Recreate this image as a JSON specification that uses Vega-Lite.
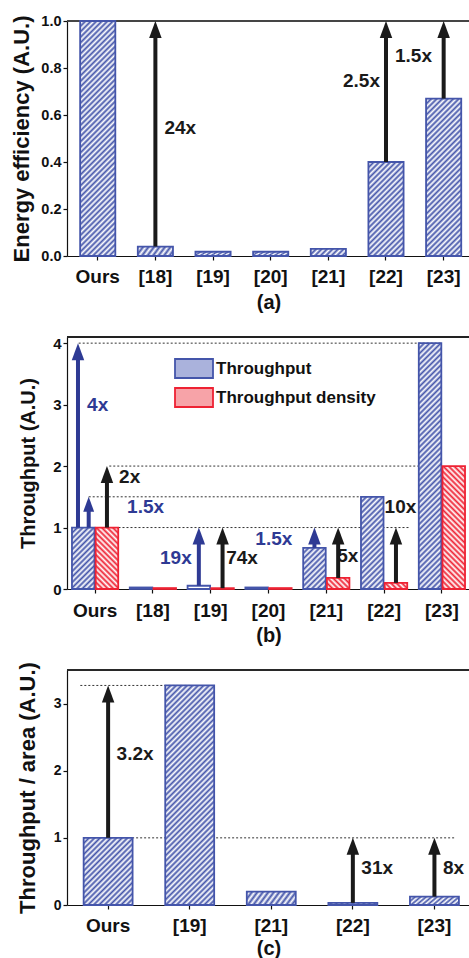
{
"$schema":"https://vega.github.io/schema/vega-lite/v6.json",
"padding":{"left":10,"top":13,"right":0,"bottom":0},
"bounds":"flush",
"spacing":81,
"resolve":{"legend":{"stroke":"independent","fill":"independent"}},
"config":{"font":"Liberation Sans","view":{"stroke":null},"text":{"fontSize":19,"fontWeight":"bold"},
"axis":{"labelFont":"Liberation Sans","titleFont":"Liberation Sans","labelFontWeight":"bold","titleFontWeight":"bold","labelColor":"#111","titleColor":"#111","domainColor":"#111","tickColor":"#111","grid":false,"domainWidth":1.2,"tickWidth":1.2},
"legend":{"labelFont":"Liberation Sans"}},
"vconcat":[
{"width":403,"height":235,
"data":{"values":[{"cat":"Ours","v":1},{"cat":"[18]","v":0.04},{"cat":"[19]","v":0.018},{"cat":"[20]","v":0.018},{"cat":"[21]","v":0.03},{"cat":"[22]","v":0.4},{"cat":"[23]","v":0.67}]},
"layer":[
{"mark":{"type":"rule","color":"#444","strokeWidth":1},"encoding":{"y":{"datum":1}}},
{"mark":{"type":"bar","stroke":"#45a","strokeWidth":1.8},
"encoding":{
"x":{"field":"cat","type":"nominal","sort":null,"scale":{"domain":["Ours","[18]","[19]","[20]","[21]","[22]","[23]"],"paddingInner":0.39,"paddingOuter":0.19,"align":0.6},
"axis":{"title":"(a)","titleFontSize":20,"titlePadding":6,"labelFontSize":19,"labelAngle":0,"labelPadding":7,"tickSize":4,"labelOverlap":false,"bandPosition":0.5,"labelAlign":"center","labelBaseline":"top"}},
"y":{"field":"v","type":"quantitative","scale":{"domain":[0,1],"nice":false},
"axis":{"title":"Energy efficiency (A.U.)","titleFontSize":22,"titleX":-33.3,"values":[0,0.1,0.2,0.3,0.4,0.5,0.6,0.7,0.8,0.9,1],"format":".1f","labelExpr":"round(datum.value*10)%2==0 ? datum.label : ''","tickSize":{"condition":{"test":"round(datum.value*10)%2==0","value":4},"value":2},"labelFontSize":14.5,"labelPadding":2}},
"fill":{"condition":[
{"test":"datum.cat=='Ours'","value":{"gradient":"linear","x1":0,"y1":0,"x2":0.1713,"y2":1.1446,"stops":[{"offset":0,"color":"#45a"},{"offset":0.01,"color":"#fff"},{"offset":0.02,"color":"#45a"},{"offset":0.03,"color":"#fff"},{"offset":0.04,"color":"#45a"},{"offset":0.05,"color":"#fff"},{"offset":0.06,"color":"#45a"},{"offset":0.07,"color":"#fff"},{"offset":0.08,"color":"#45a"},{"offset":0.09,"color":"#fff"},{"offset":0.1,"color":"#45a"},{"offset":0.11,"color":"#fff"},{"offset":0.12,"color":"#45a"},{"offset":0.13,"color":"#fff"},{"offset":0.14,"color":"#45a"},{"offset":0.15,"color":"#fff"},{"offset":0.16,"color":"#45a"},{"offset":0.17,"color":"#fff"},{"offset":0.18,"color":"#45a"},{"offset":0.19,"color":"#fff"},{"offset":0.2,"color":"#45a"},{"offset":0.21,"color":"#fff"},{"offset":0.22,"color":"#45a"},{"offset":0.23,"color":"#fff"},{"offset":0.24,"color":"#45a"},{"offset":0.25,"color":"#fff"},{"offset":0.26,"color":"#45a"},{"offset":0.27,"color":"#fff"},{"offset":0.28,"color":"#45a"},{"offset":0.29,"color":"#fff"},{"offset":0.3,"color":"#45a"},{"offset":0.31,"color":"#fff"},{"offset":0.32,"color":"#45a"},{"offset":0.33,"color":"#fff"},{"offset":0.34,"color":"#45a"},{"offset":0.35,"color":"#fff"},{"offset":0.36,"color":"#45a"},{"offset":0.37,"color":"#fff"},{"offset":0.38,"color":"#45a"},{"offset":0.39,"color":"#fff"},{"offset":0.4,"color":"#45a"},{"offset":0.41,"color":"#fff"},{"offset":0.42,"color":"#45a"},{"offset":0.43,"color":"#fff"},{"offset":0.44,"color":"#45a"},{"offset":0.45,"color":"#fff"},{"offset":0.46,"color":"#45a"},{"offset":0.47,"color":"#fff"},{"offset":0.48,"color":"#45a"},{"offset":0.49,"color":"#fff"},{"offset":0.5,"color":"#45a"},{"offset":0.51,"color":"#fff"},{"offset":0.52,"color":"#45a"},{"offset":0.53,"color":"#fff"},{"offset":0.54,"color":"#45a"},{"offset":0.55,"color":"#fff"},{"offset":0.56,"color":"#45a"},{"offset":0.57,"color":"#fff"},{"offset":0.58,"color":"#45a"},{"offset":0.59,"color":"#fff"},{"offset":0.6,"color":"#45a"},{"offset":0.61,"color":"#fff"},{"offset":0.62,"color":"#45a"},{"offset":0.63,"color":"#fff"},{"offset":0.64,"color":"#45a"},{"offset":0.65,"color":"#fff"},{"offset":0.66,"color":"#45a"},{"offset":0.67,"color":"#fff"},{"offset":0.68,"color":"#45a"},{"offset":0.69,"color":"#fff"},{"offset":0.7,"color":"#45a"},{"offset":0.71,"color":"#fff"},{"offset":0.72,"color":"#45a"},{"offset":0.73,"color":"#fff"},{"offset":0.74,"color":"#45a"},{"offset":0.75,"color":"#fff"},{"offset":0.76,"color":"#45a"},{"offset":0.77,"color":"#fff"},{"offset":0.78,"color":"#45a"},{"offset":0.79,"color":"#fff"},{"offset":0.8,"color":"#45a"},{"offset":0.81,"color":"#fff"},{"offset":0.82,"color":"#45a"},{"offset":0.83,"color":"#fff"},{"offset":0.84,"color":"#45a"},{"offset":0.85,"color":"#fff"},{"offset":0.86,"color":"#45a"},{"offset":0.87,"color":"#fff"},{"offset":0.88,"color":"#45a"},{"offset":0.89,"color":"#fff"},{"offset":0.9,"color":"#45a"},{"offset":0.91,"color":"#fff"},{"offset":0.92,"color":"#45a"},{"offset":0.93,"color":"#fff"},{"offset":0.94,"color":"#45a"},{"offset":0.95,"color":"#fff"},{"offset":0.96,"color":"#45a"},{"offset":0.97,"color":"#fff"},{"offset":0.98,"color":"#45a"},{"offset":0.99,"color":"#fff"},{"offset":1,"color":"#45a"}]}},
{"test":"datum.cat=='[22]'","value":{"gradient":"linear","x1":0,"y1":0,"x2":0.9602,"y2":2.5663,"stops":[{"offset":0,"color":"#45a"},{"offset":0.01,"color":"#fff"},{"offset":0.02,"color":"#45a"},{"offset":0.03,"color":"#fff"},{"offset":0.04,"color":"#45a"},{"offset":0.05,"color":"#fff"},{"offset":0.06,"color":"#45a"},{"offset":0.07,"color":"#fff"},{"offset":0.08,"color":"#45a"},{"offset":0.09,"color":"#fff"},{"offset":0.1,"color":"#45a"},{"offset":0.11,"color":"#fff"},{"offset":0.12,"color":"#45a"},{"offset":0.13,"color":"#fff"},{"offset":0.14,"color":"#45a"},{"offset":0.15,"color":"#fff"},{"offset":0.16,"color":"#45a"},{"offset":0.17,"color":"#fff"},{"offset":0.18,"color":"#45a"},{"offset":0.19,"color":"#fff"},{"offset":0.2,"color":"#45a"},{"offset":0.21,"color":"#fff"},{"offset":0.22,"color":"#45a"},{"offset":0.23,"color":"#fff"},{"offset":0.24,"color":"#45a"},{"offset":0.25,"color":"#fff"},{"offset":0.26,"color":"#45a"},{"offset":0.27,"color":"#fff"},{"offset":0.28,"color":"#45a"},{"offset":0.29,"color":"#fff"},{"offset":0.3,"color":"#45a"},{"offset":0.31,"color":"#fff"},{"offset":0.32,"color":"#45a"},{"offset":0.33,"color":"#fff"},{"offset":0.34,"color":"#45a"},{"offset":0.35,"color":"#fff"},{"offset":0.36,"color":"#45a"},{"offset":0.37,"color":"#fff"},{"offset":0.38,"color":"#45a"},{"offset":0.39,"color":"#fff"},{"offset":0.4,"color":"#45a"},{"offset":0.41,"color":"#fff"},{"offset":0.42,"color":"#45a"},{"offset":0.43,"color":"#fff"},{"offset":0.44,"color":"#45a"},{"offset":0.45,"color":"#fff"},{"offset":0.46,"color":"#45a"},{"offset":0.47,"color":"#fff"},{"offset":0.48,"color":"#45a"}]}},
{"test":"datum.cat=='[23]'","value":{"gradient":"linear","x1":0,"y1":0,"x2":0.3716,"y2":1.6636,"stops":[{"offset":0,"color":"#45a"},{"offset":0.01,"color":"#fff"},{"offset":0.02,"color":"#45a"},{"offset":0.03,"color":"#fff"},{"offset":0.04,"color":"#45a"},{"offset":0.05,"color":"#fff"},{"offset":0.06,"color":"#45a"},{"offset":0.07,"color":"#fff"},{"offset":0.08,"color":"#45a"},{"offset":0.09,"color":"#fff"},{"offset":0.1,"color":"#45a"},{"offset":0.11,"color":"#fff"},{"offset":0.12,"color":"#45a"},{"offset":0.13,"color":"#fff"},{"offset":0.14,"color":"#45a"},{"offset":0.15,"color":"#fff"},{"offset":0.16,"color":"#45a"},{"offset":0.17,"color":"#fff"},{"offset":0.18,"color":"#45a"},{"offset":0.19,"color":"#fff"},{"offset":0.2,"color":"#45a"},{"offset":0.21,"color":"#fff"},{"offset":0.22,"color":"#45a"},{"offset":0.23,"color":"#fff"},{"offset":0.24,"color":"#45a"},{"offset":0.25,"color":"#fff"},{"offset":0.26,"color":"#45a"},{"offset":0.27,"color":"#fff"},{"offset":0.28,"color":"#45a"},{"offset":0.29,"color":"#fff"},{"offset":0.3,"color":"#45a"},{"offset":0.31,"color":"#fff"},{"offset":0.32,"color":"#45a"},{"offset":0.33,"color":"#fff"},{"offset":0.34,"color":"#45a"},{"offset":0.35,"color":"#fff"},{"offset":0.36,"color":"#45a"},{"offset":0.37,"color":"#fff"},{"offset":0.38,"color":"#45a"},{"offset":0.39,"color":"#fff"},{"offset":0.4,"color":"#45a"},{"offset":0.41,"color":"#fff"},{"offset":0.42,"color":"#45a"},{"offset":0.43,"color":"#fff"},{"offset":0.44,"color":"#45a"},{"offset":0.45,"color":"#fff"},{"offset":0.46,"color":"#45a"},{"offset":0.47,"color":"#fff"},{"offset":0.48,"color":"#45a"},{"offset":0.49,"color":"#fff"},{"offset":0.5,"color":"#45a"},{"offset":0.51,"color":"#fff"},{"offset":0.52,"color":"#45a"},{"offset":0.53,"color":"#fff"},{"offset":0.54,"color":"#45a"},{"offset":0.55,"color":"#fff"},{"offset":0.56,"color":"#45a"},{"offset":0.57,"color":"#fff"},{"offset":0.58,"color":"#45a"},{"offset":0.59,"color":"#fff"},{"offset":0.6,"color":"#45a"},{"offset":0.61,"color":"#fff"},{"offset":0.62,"color":"#45a"},{"offset":0.63,"color":"#fff"},{"offset":0.64,"color":"#45a"},{"offset":0.65,"color":"#fff"},{"offset":0.66,"color":"#45a"},{"offset":0.67,"color":"#fff"},{"offset":0.68,"color":"#45a"},{"offset":0.69,"color":"#fff"},{"offset":0.7,"color":"#45a"},{"offset":0.71,"color":"#fff"},{"offset":0.72,"color":"#45a"}]}}
],"value":{"gradient":"linear","x1":0,"y1":0,"x2":7.509,"y2":1.4946,"stops":[{"offset":0,"color":"#45a"},{"offset":0.01,"color":"#fff"},{"offset":0.02,"color":"#45a"},{"offset":0.03,"color":"#fff"},{"offset":0.04,"color":"#45a"},{"offset":0.05,"color":"#fff"},{"offset":0.06,"color":"#45a"},{"offset":0.07,"color":"#fff"},{"offset":0.08,"color":"#45a"},{"offset":0.09,"color":"#fff"},{"offset":0.1,"color":"#45a"},{"offset":0.11,"color":"#fff"},{"offset":0.12,"color":"#45a"},{"offset":0.13,"color":"#fff"},{"offset":0.14,"color":"#45a"},{"offset":0.15,"color":"#fff"},{"offset":0.16,"color":"#45a"}]}}
}},
{"data":{"values":[{"cat":"[18]","from":0.04,"to":1},{"cat":"[22]","from":0.4,"to":1},{"cat":"[23]","from":0.67,"to":1}]},
"encoding":{"x":{"field":"cat","type":"nominal"}},
"layer":[
{"mark":{"type":"rule","color":"#1a1a1a","strokeWidth":4,"y2Offset":10},"encoding":{"y":{"field":"from","type":"quantitative"},"y2":{"field":"to"}}},
{"mark":{"type":"point","shape":"M0,0L-0.735,2L0.735,2Z","size":289,"filled":true,"opacity":1,"color":"#1a1a1a","strokeWidth":0},"encoding":{"y":{"field":"to","type":"quantitative"}}}
]},
{"encoding":{"x":{"field":"cat","type":"nominal"},"y":{"field":"y","type":"quantitative"},"text":{"field":"t"}},
"layer":[
{"data":{"values":[{"cat":"[18]","y":0.546,"t":"24x"}]},"mark":{"type":"text","align":"left","dx":9,"color":"#1a1a1a"}},
{"data":{"values":[{"cat":"[22]","y":0.745,"t":"2.5x"}]},"mark":{"type":"text","align":"right","dx":-6,"color":"#1a1a1a"}},
{"data":{"values":[{"cat":"[23]","y":0.851,"t":"1.5x"}]},"mark":{"type":"text","align":"right","dx":-11.7,"color":"#1a1a1a"}}
]}
]},
{"width":403,"height":252,
"data":{"values":[{"cat":"Ours","series":"Throughput","v":1},{"cat":"Ours","series":"Throughput density","v":1},{"cat":"[18]","series":"Throughput","v":0.025},{"cat":"[18]","series":"Throughput density","v":0.015},{"cat":"[19]","series":"Throughput","v":0.053},{"cat":"[19]","series":"Throughput density","v":0.0135},{"cat":"[20]","series":"Throughput","v":0.025},{"cat":"[20]","series":"Throughput density","v":0.015},{"cat":"[21]","series":"Throughput","v":0.67},{"cat":"[21]","series":"Throughput density","v":0.18},{"cat":"[22]","series":"Throughput","v":1.5},{"cat":"[22]","series":"Throughput density","v":0.1},{"cat":"[23]","series":"Throughput","v":4},{"cat":"[23]","series":"Throughput density","v":2}]},
"layer":[
{"mark":{"type":"rule","color":"#222","strokeWidth":1},"encoding":{"y":{"datum":4.1}}},
{"encoding":{"x":{"field":"from","type":"nominal"},"x2":{"field":"to"},"y":{"field":"y","type":"quantitative"}},
"layer":[
{"data":{"values":[{"y":4,"from":"Ours","to":"[23]"}]},"mark":{"type":"rule","strokeDash":[2,2],"strokeWidth":1,"color":"#333","xOffset":-16.4}},
{"data":{"values":[{"y":2,"from":"Ours","to":"[23]"}]},"mark":{"type":"rule","strokeDash":[2,2],"strokeWidth":1,"color":"#333","xOffset":14.2}},
{"data":{"values":[{"y":1.5,"from":"Ours","to":"[22]"}]},"mark":{"type":"rule","strokeDash":[2,2],"strokeWidth":1,"color":"#333","xOffset":-6.4}},
{"data":{"values":[{"y":1,"from":"Ours","to":"[22]"}]},"mark":{"type":"rule","strokeDash":[2,2],"strokeWidth":1,"color":"#333","xOffset":23.4,"x2Offset":26}}
]},
{"transform":[{"filter":"datum.v < 0"}],
"mark":{"type":"bar"},
"encoding":{"x":{"field":"cat","type":"nominal"},"y":{"field":"v","type":"quantitative"},
"fill":{"field":"series","type":"nominal","scale":{"domain":["Throughput","Throughput density"],"range":["#aab2dc","#f7a3a8"]},
"legend":{"orient":"none","legendX":108,"legendY":21,"title":null,"padding":0,"labelFontSize":17,"labelFontWeight":"bold","labelColor":"#111","symbolType":"M-2,-1H2V1H-2Z","symbolSize":361,"symbolStrokeWidth":1.8,"symbolOffset":8.5,"labelOffset":11.5,"rowPadding":2,"symbolOpacity":1}}}},
{"mark":{"type":"bar","strokeWidth":1.8},
"encoding":{
"x":{"field":"cat","type":"nominal","sort":null,"scale":{"domain":["Ours","[18]","[19]","[20]","[21]","[22]","[23]"],"paddingInner":0.2,"paddingOuter":0.086,"align":0.5},
"axis":{"title":"(b)","titleFontSize":20,"titlePadding":5.5,"labelFontSize":19,"labelAngle":0,"labelPadding":8.3,"tickSize":4,"labelOverlap":false,"bandPosition":0.5,"labelAlign":"center","labelBaseline":"top"}},
"xOffset":{"field":"series","type":"nominal","scale":{"domain":["Throughput","Throughput density"],"paddingInner":0.05,"paddingOuter":0}},
"y":{"field":"v","type":"quantitative","scale":{"domain":[0,4.1],"nice":false},
"axis":{"title":"Throughput (A.U.)","titleFontSize":20,"titleX":-28.3,"values":[0,0.5,1,1.5,2,2.5,3,3.5,4],"format":".0f","labelExpr":"datum.value%1==0 ? datum.label : ''","tickSize":{"condition":{"test":"datum.value%1==0","value":4},"value":2},"labelFontSize":15,"labelPadding":2}},
"stroke":{"field":"series","type":"nominal","scale":{"domain":["Throughput","Throughput density"],"range":["#45a","#e23"]},
"legend":{"orient":"none","legendX":108,"legendY":21,"title":null,"padding":0,"labelFontSize":17,"labelFontWeight":"bold","labelColor":"#111","symbolType":"M-2,-1H2V1H-2Z","symbolSize":361,"symbolStrokeWidth":1.8,"symbolOffset":8.5,"labelOffset":11.5,"rowPadding":2,"symbolOpacity":1}},
"fill":{"condition":[
{"test":"datum.cat=='Ours'&&datum.series=='Throughput'","value":{"gradient":"linear","x1":0,"y1":0,"x2":1.443,"y2":3.944,"stops":[{"offset":0,"color":"#45a"},{"offset":0.01,"color":"#fff"},{"offset":0.02,"color":"#45a"},{"offset":0.03,"color":"#fff"},{"offset":0.04,"color":"#45a"},{"offset":0.05,"color":"#fff"},{"offset":0.06,"color":"#45a"},{"offset":0.07,"color":"#fff"},{"offset":0.08,"color":"#45a"},{"offset":0.09,"color":"#fff"},{"offset":0.1,"color":"#45a"},{"offset":0.11,"color":"#fff"},{"offset":0.12,"color":"#45a"},{"offset":0.13,"color":"#fff"},{"offset":0.14,"color":"#45a"},{"offset":0.15,"color":"#fff"},{"offset":0.16,"color":"#45a"},{"offset":0.17,"color":"#fff"},{"offset":0.18,"color":"#45a"},{"offset":0.19,"color":"#fff"},{"offset":0.2,"color":"#45a"},{"offset":0.21,"color":"#fff"},{"offset":0.22,"color":"#45a"},{"offset":0.23,"color":"#fff"},{"offset":0.24,"color":"#45a"},{"offset":0.25,"color":"#fff"},{"offset":0.26,"color":"#45a"},{"offset":0.27,"color":"#fff"},{"offset":0.28,"color":"#45a"},{"offset":0.29,"color":"#fff"},{"offset":0.3,"color":"#45a"},{"offset":0.31,"color":"#fff"},{"offset":0.32,"color":"#45a"}]}},
{"test":"datum.cat=='Ours'","value":{"gradient":"linear","x1":1,"y1":0,"x2":-0.443,"y2":3.944,"stops":[{"offset":0,"color":"#e23"},{"offset":0.01,"color":"#fff"},{"offset":0.02,"color":"#e23"},{"offset":0.03,"color":"#fff"},{"offset":0.04,"color":"#e23"},{"offset":0.05,"color":"#fff"},{"offset":0.06,"color":"#e23"},{"offset":0.07,"color":"#fff"},{"offset":0.08,"color":"#e23"},{"offset":0.09,"color":"#fff"},{"offset":0.1,"color":"#e23"},{"offset":0.11,"color":"#fff"},{"offset":0.12,"color":"#e23"},{"offset":0.13,"color":"#fff"},{"offset":0.14,"color":"#e23"},{"offset":0.15,"color":"#fff"},{"offset":0.16,"color":"#e23"},{"offset":0.17,"color":"#fff"},{"offset":0.18,"color":"#e23"},{"offset":0.19,"color":"#fff"},{"offset":0.2,"color":"#e23"},{"offset":0.21,"color":"#fff"},{"offset":0.22,"color":"#e23"},{"offset":0.23,"color":"#fff"},{"offset":0.24,"color":"#e23"},{"offset":0.25,"color":"#fff"},{"offset":0.26,"color":"#e23"},{"offset":0.27,"color":"#fff"},{"offset":0.28,"color":"#e23"},{"offset":0.29,"color":"#fff"},{"offset":0.3,"color":"#e23"},{"offset":0.31,"color":"#fff"},{"offset":0.32,"color":"#e23"}]}},
{"test":"datum.cat=='[21]'&&datum.series=='Throughput'","value":{"gradient":"linear","x1":0,"y1":0,"x2":2.809,"y2":5.143,"stops":[{"offset":0,"color":"#45a"},{"offset":0.01,"color":"#fff"},{"offset":0.02,"color":"#45a"},{"offset":0.03,"color":"#fff"},{"offset":0.04,"color":"#45a"},{"offset":0.05,"color":"#fff"},{"offset":0.06,"color":"#45a"},{"offset":0.07,"color":"#fff"},{"offset":0.08,"color":"#45a"},{"offset":0.09,"color":"#fff"},{"offset":0.1,"color":"#45a"},{"offset":0.11,"color":"#fff"},{"offset":0.12,"color":"#45a"},{"offset":0.13,"color":"#fff"},{"offset":0.14,"color":"#45a"},{"offset":0.15,"color":"#fff"},{"offset":0.16,"color":"#45a"},{"offset":0.17,"color":"#fff"},{"offset":0.18,"color":"#45a"},{"offset":0.19,"color":"#fff"},{"offset":0.2,"color":"#45a"},{"offset":0.21,"color":"#fff"},{"offset":0.22,"color":"#45a"},{"offset":0.23,"color":"#fff"},{"offset":0.24,"color":"#45a"}]}},
{"test":"datum.cat=='[21]'","value":{"gradient":"linear","x1":1,"y1":0,"x2":-8.837,"y2":4.853,"stops":[{"offset":0,"color":"#e23"},{"offset":0.01,"color":"#fff"},{"offset":0.02,"color":"#e23"},{"offset":0.03,"color":"#fff"},{"offset":0.04,"color":"#e23"},{"offset":0.05,"color":"#fff"},{"offset":0.06,"color":"#e23"},{"offset":0.07,"color":"#fff"},{"offset":0.08,"color":"#e23"},{"offset":0.09,"color":"#fff"},{"offset":0.1,"color":"#e23"},{"offset":0.11,"color":"#fff"},{"offset":0.12,"color":"#e23"},{"offset":0.13,"color":"#fff"},{"offset":0.14,"color":"#e23"}]}},
{"test":"datum.cat=='[22]'&&datum.series=='Throughput'","value":{"gradient":"linear","x1":0,"y1":0,"x2":0.687,"y2":2.815,"stops":[{"offset":0,"color":"#45a"},{"offset":0.01,"color":"#fff"},{"offset":0.02,"color":"#45a"},{"offset":0.03,"color":"#fff"},{"offset":0.04,"color":"#45a"},{"offset":0.05,"color":"#fff"},{"offset":0.06,"color":"#45a"},{"offset":0.07,"color":"#fff"},{"offset":0.08,"color":"#45a"},{"offset":0.09,"color":"#fff"},{"offset":0.1,"color":"#45a"},{"offset":0.11,"color":"#fff"},{"offset":0.12,"color":"#45a"},{"offset":0.13,"color":"#fff"},{"offset":0.14,"color":"#45a"},{"offset":0.15,"color":"#fff"},{"offset":0.16,"color":"#45a"},{"offset":0.17,"color":"#fff"},{"offset":0.18,"color":"#45a"},{"offset":0.19,"color":"#fff"},{"offset":0.2,"color":"#45a"},{"offset":0.21,"color":"#fff"},{"offset":0.22,"color":"#45a"},{"offset":0.23,"color":"#fff"},{"offset":0.24,"color":"#45a"},{"offset":0.25,"color":"#fff"},{"offset":0.26,"color":"#45a"},{"offset":0.27,"color":"#fff"},{"offset":0.28,"color":"#45a"},{"offset":0.29,"color":"#fff"},{"offset":0.3,"color":"#45a"},{"offset":0.31,"color":"#fff"},{"offset":0.32,"color":"#45a"},{"offset":0.33,"color":"#fff"},{"offset":0.34,"color":"#45a"},{"offset":0.35,"color":"#fff"},{"offset":0.36,"color":"#45a"},{"offset":0.37,"color":"#fff"},{"offset":0.38,"color":"#45a"},{"offset":0.39,"color":"#fff"},{"offset":0.4,"color":"#45a"},{"offset":0.41,"color":"#fff"},{"offset":0.42,"color":"#45a"}]}},
{"test":"datum.cat=='[22]'","value":{"gradient":"linear","x1":1,"y1":0,"x2":-10.395,"y2":3.089,"stops":[{"offset":0,"color":"#e23"},{"offset":0.01,"color":"#fff"},{"offset":0.02,"color":"#e23"},{"offset":0.03,"color":"#fff"},{"offset":0.04,"color":"#e23"},{"offset":0.05,"color":"#fff"},{"offset":0.06,"color":"#e23"},{"offset":0.07,"color":"#fff"},{"offset":0.08,"color":"#e23"},{"offset":0.09,"color":"#fff"},{"offset":0.1,"color":"#e23"},{"offset":0.11,"color":"#fff"},{"offset":0.12,"color":"#e23"}]}},
{"test":"datum.cat=='[23]'&&datum.series=='Throughput'","value":{"gradient":"linear","x1":0,"y1":0,"x2":0.1015,"y2":1.109,"stops":[{"offset":0,"color":"#45a"},{"offset":0.01,"color":"#fff"},{"offset":0.02,"color":"#45a"},{"offset":0.03,"color":"#fff"},{"offset":0.04,"color":"#45a"},{"offset":0.05,"color":"#fff"},{"offset":0.06,"color":"#45a"},{"offset":0.07,"color":"#fff"},{"offset":0.08,"color":"#45a"},{"offset":0.09,"color":"#fff"},{"offset":0.1,"color":"#45a"},{"offset":0.11,"color":"#fff"},{"offset":0.12,"color":"#45a"},{"offset":0.13,"color":"#fff"},{"offset":0.14,"color":"#45a"},{"offset":0.15,"color":"#fff"},{"offset":0.16,"color":"#45a"},{"offset":0.17,"color":"#fff"},{"offset":0.18,"color":"#45a"},{"offset":0.19,"color":"#fff"},{"offset":0.2,"color":"#45a"},{"offset":0.21,"color":"#fff"},{"offset":0.22,"color":"#45a"},{"offset":0.23,"color":"#fff"},{"offset":0.24,"color":"#45a"},{"offset":0.25,"color":"#fff"},{"offset":0.26,"color":"#45a"},{"offset":0.27,"color":"#fff"},{"offset":0.28,"color":"#45a"},{"offset":0.29,"color":"#fff"},{"offset":0.3,"color":"#45a"},{"offset":0.31,"color":"#fff"},{"offset":0.32,"color":"#45a"},{"offset":0.33,"color":"#fff"},{"offset":0.34,"color":"#45a"},{"offset":0.35,"color":"#fff"},{"offset":0.36,"color":"#45a"},{"offset":0.37,"color":"#fff"},{"offset":0.38,"color":"#45a"},{"offset":0.39,"color":"#fff"},{"offset":0.4,"color":"#45a"},{"offset":0.41,"color":"#fff"},{"offset":0.42,"color":"#45a"},{"offset":0.43,"color":"#fff"},{"offset":0.44,"color":"#45a"},{"offset":0.45,"color":"#fff"},{"offset":0.46,"color":"#45a"},{"offset":0.47,"color":"#fff"},{"offset":0.48,"color":"#45a"},{"offset":0.49,"color":"#fff"},{"offset":0.5,"color":"#45a"},{"offset":0.51,"color":"#fff"},{"offset":0.52,"color":"#45a"},{"offset":0.53,"color":"#fff"},{"offset":0.54,"color":"#45a"},{"offset":0.55,"color":"#fff"},{"offset":0.56,"color":"#45a"},{"offset":0.57,"color":"#fff"},{"offset":0.58,"color":"#45a"},{"offset":0.59,"color":"#fff"},{"offset":0.6,"color":"#45a"},{"offset":0.61,"color":"#fff"},{"offset":0.62,"color":"#45a"},{"offset":0.63,"color":"#fff"},{"offset":0.64,"color":"#45a"},{"offset":0.65,"color":"#fff"},{"offset":0.66,"color":"#45a"},{"offset":0.67,"color":"#fff"},{"offset":0.68,"color":"#45a"},{"offset":0.69,"color":"#fff"},{"offset":0.7,"color":"#45a"},{"offset":0.71,"color":"#fff"},{"offset":0.72,"color":"#45a"},{"offset":0.73,"color":"#fff"},{"offset":0.74,"color":"#45a"},{"offset":0.75,"color":"#fff"},{"offset":0.76,"color":"#45a"},{"offset":0.77,"color":"#fff"},{"offset":0.78,"color":"#45a"},{"offset":0.79,"color":"#fff"},{"offset":0.8,"color":"#45a"},{"offset":0.81,"color":"#fff"},{"offset":0.82,"color":"#45a"},{"offset":0.83,"color":"#fff"},{"offset":0.84,"color":"#45a"},{"offset":0.85,"color":"#fff"},{"offset":0.86,"color":"#45a"},{"offset":0.87,"color":"#fff"},{"offset":0.88,"color":"#45a"},{"offset":0.89,"color":"#fff"},{"offset":0.9,"color":"#45a"},{"offset":0.91,"color":"#fff"},{"offset":0.92,"color":"#45a"},{"offset":0.93,"color":"#fff"},{"offset":0.94,"color":"#45a"},{"offset":0.95,"color":"#fff"},{"offset":0.96,"color":"#45a"},{"offset":0.97,"color":"#fff"},{"offset":0.98,"color":"#45a"},{"offset":0.99,"color":"#fff"},{"offset":1,"color":"#45a"}]}},
{"test":"datum.cat=='[23]'","value":{"gradient":"linear","x1":1,"y1":0,"x2":0.6036,"y2":2.165,"stops":[{"offset":0,"color":"#e23"},{"offset":0.01,"color":"#fff"},{"offset":0.02,"color":"#e23"},{"offset":0.03,"color":"#fff"},{"offset":0.04,"color":"#e23"},{"offset":0.05,"color":"#fff"},{"offset":0.06,"color":"#e23"},{"offset":0.07,"color":"#fff"},{"offset":0.08,"color":"#e23"},{"offset":0.09,"color":"#fff"},{"offset":0.1,"color":"#e23"},{"offset":0.11,"color":"#fff"},{"offset":0.12,"color":"#e23"},{"offset":0.13,"color":"#fff"},{"offset":0.14,"color":"#e23"},{"offset":0.15,"color":"#fff"},{"offset":0.16,"color":"#e23"},{"offset":0.17,"color":"#fff"},{"offset":0.18,"color":"#e23"},{"offset":0.19,"color":"#fff"},{"offset":0.2,"color":"#e23"},{"offset":0.21,"color":"#fff"},{"offset":0.22,"color":"#e23"},{"offset":0.23,"color":"#fff"},{"offset":0.24,"color":"#e23"},{"offset":0.25,"color":"#fff"},{"offset":0.26,"color":"#e23"},{"offset":0.27,"color":"#fff"},{"offset":0.28,"color":"#e23"},{"offset":0.29,"color":"#fff"},{"offset":0.3,"color":"#e23"},{"offset":0.31,"color":"#fff"},{"offset":0.32,"color":"#e23"},{"offset":0.33,"color":"#fff"},{"offset":0.34,"color":"#e23"},{"offset":0.35,"color":"#fff"},{"offset":0.36,"color":"#e23"},{"offset":0.37,"color":"#fff"},{"offset":0.38,"color":"#e23"},{"offset":0.39,"color":"#fff"},{"offset":0.4,"color":"#e23"},{"offset":0.41,"color":"#fff"},{"offset":0.42,"color":"#e23"},{"offset":0.43,"color":"#fff"},{"offset":0.44,"color":"#e23"},{"offset":0.45,"color":"#fff"},{"offset":0.46,"color":"#e23"},{"offset":0.47,"color":"#fff"},{"offset":0.48,"color":"#e23"},{"offset":0.49,"color":"#fff"},{"offset":0.5,"color":"#e23"},{"offset":0.51,"color":"#fff"},{"offset":0.52,"color":"#e23"},{"offset":0.53,"color":"#fff"},{"offset":0.54,"color":"#e23"}]}}
],"value":"#fff"}
}},
{"data":{"values":[{"cat":"Ours","series":"Throughput density","from":1,"to":2},{"cat":"[19]","series":"Throughput","from":0.053,"to":1},{"cat":"[19]","series":"Throughput density","from":0.0135,"to":1},{"cat":"[21]","series":"Throughput","from":0.67,"to":1},{"cat":"[21]","series":"Throughput density","from":0.18,"to":1},{"cat":"[22]","series":"Throughput density","from":0.1,"to":1}]},
"encoding":{"x":{"field":"cat","type":"nominal"},"xOffset":{"field":"series","type":"nominal"},"color":{"condition":{"test":"datum.series=='Throughput'","value":"#2e3a94"},"value":"#1a1a1a"}},
"layer":[
{"mark":{"type":"rule","strokeWidth":4,"y2Offset":10},"encoding":{"y":{"field":"from","type":"quantitative"},"y2":{"field":"to"}}},
{"mark":{"type":"point","shape":"M0,0L-0.735,2L0.735,2Z","size":289,"filled":true,"opacity":1,"strokeWidth":0},"encoding":{"y":{"field":"to","type":"quantitative"}}}
]},
{"data":{"values":[{"cat":"Ours","from":1,"to":4}]},
"encoding":{"x":{"field":"cat","type":"nominal"}},
"layer":[
{"mark":{"type":"rule","strokeWidth":4,"y2Offset":10,"color":"#2e3a94","xOffset":-17.1},"encoding":{"y":{"field":"from","type":"quantitative"},"y2":{"field":"to"}}},
{"mark":{"type":"point","shape":"M0,0L-0.735,2L0.735,2Z","size":289,"filled":true,"opacity":1,"strokeWidth":0,"color":"#2e3a94","xOffset":-17.1},"encoding":{"y":{"field":"to","type":"quantitative"}}}
]},
{"data":{"values":[{"cat":"Ours","from":1,"to":1.5}]},
"encoding":{"x":{"field":"cat","type":"nominal"}},
"layer":[
{"mark":{"type":"rule","strokeWidth":4,"y2Offset":10,"color":"#2e3a94","xOffset":-6.4},"encoding":{"y":{"field":"from","type":"quantitative"},"y2":{"field":"to"}}},
{"mark":{"type":"point","shape":"M0,0L-0.735,2L0.735,2Z","size":220,"filled":true,"opacity":1,"strokeWidth":0,"color":"#2e3a94","xOffset":-6.4},"encoding":{"y":{"field":"to","type":"quantitative"}}}
]},
{"encoding":{"x":{"field":"cat","type":"nominal"},"y":{"field":"y","type":"quantitative"},"text":{"field":"t"}},
"layer":[
{"data":{"values":[{"cat":"Ours","y":3,"t":"4x"}]},"mark":{"type":"text","align":"left","dx":-8,"color":"#2e3a94"}},
{"data":{"values":[{"cat":"Ours","y":1.33,"t":"1.5x"}]},"mark":{"type":"text","align":"left","dx":32,"color":"#2e3a94"}},
{"data":{"values":[{"cat":"Ours","y":1.83,"t":"2x"}]},"mark":{"type":"text","align":"left","dx":24,"color":"#1a1a1a"}},
{"data":{"values":[{"cat":"[19]","y":0.51,"t":"19x"}]},"mark":{"type":"text","align":"right","dx":-19,"color":"#2e3a94"}},
{"data":{"values":[{"cat":"[19]","y":0.51,"t":"74x"}]},"mark":{"type":"text","align":"left","dx":15.5,"color":"#1a1a1a"}},
{"data":{"values":[{"cat":"[21]","y":0.81,"t":"1.5x"}]},"mark":{"type":"text","align":"right","dx":-34,"color":"#2e3a94"}},
{"data":{"values":[{"cat":"[21]","y":0.54,"t":"5x"}]},"mark":{"type":"text","align":"left","dx":11,"color":"#1a1a1a"}},
{"data":{"values":[{"cat":"[22]","y":1.34,"t":"10x"}]},"mark":{"type":"text","align":"left","dx":0.5,"color":"#1a1a1a"}}
]}
]},
{"width":403,"height":235,
"data":{"values":[{"cat":"Ours","v":1},{"cat":"[19]","v":3.27},{"cat":"[21]","v":0.2},{"cat":"[22]","v":0.032},{"cat":"[23]","v":0.125}]},
"layer":[
{"mark":{"type":"rule","color":"#222","strokeWidth":1},"encoding":{"y":{"datum":3.5}}},
{"encoding":{"x":{"field":"from","type":"nominal"},"x2":{"field":"to"},"y":{"field":"y","type":"quantitative"}},
"layer":[
{"data":{"values":[{"y":3.27,"from":"Ours","to":"[19]"}]},"mark":{"type":"rule","strokeDash":[2,2],"strokeWidth":1,"color":"#333","xOffset":-27.8}},
{"data":{"values":[{"y":1,"from":"Ours","to":"[23]"}]},"mark":{"type":"rule","strokeDash":[2,2],"strokeWidth":1,"color":"#333","x2Offset":21}}
]},
{"mark":{"type":"bar","stroke":"#45a","strokeWidth":1.8},
"encoding":{
"x":{"field":"cat","type":"nominal","sort":null,"scale":{"domain":["Ours","[19]","[21]","[22]","[23]"],"paddingInner":0.4,"paddingOuter":0.17,"align":0.6},
"axis":{"title":"(c)","titleFontSize":20,"titlePadding":3,"labelFontSize":19,"labelAngle":0,"labelPadding":7,"tickSize":4,"labelOverlap":false,"bandPosition":0.5,"labelAlign":"center","labelBaseline":"top"}},
"y":{"field":"v","type":"quantitative","scale":{"domain":[0,3.5],"nice":false},
"axis":{"title":"Throughput / area (A.U.)","titleFontSize":22,"titleX":-28,"values":[0,0.5,1,1.5,2,2.5,3,3.5],"format":".0f","labelExpr":"datum.value%1==0 ? datum.label : ''","tickSize":{"condition":{"test":"datum.value%1==0","value":4},"value":2},"labelFontSize":14,"labelPadding":2}},
"fill":{"condition":[
{"test":"datum.cat=='Ours'","value":{"gradient":"linear","x1":0,"y1":0,"x2":1.952,"y2":2.673,"stops":[{"offset":0,"color":"#45a"},{"offset":0.01,"color":"#fff"},{"offset":0.02,"color":"#45a"},{"offset":0.03,"color":"#fff"},{"offset":0.04,"color":"#45a"},{"offset":0.05,"color":"#fff"},{"offset":0.06,"color":"#45a"},{"offset":0.07,"color":"#fff"},{"offset":0.08,"color":"#45a"},{"offset":0.09,"color":"#fff"},{"offset":0.1,"color":"#45a"},{"offset":0.11,"color":"#fff"},{"offset":0.12,"color":"#45a"},{"offset":0.13,"color":"#fff"},{"offset":0.14,"color":"#45a"},{"offset":0.15,"color":"#fff"},{"offset":0.16,"color":"#45a"},{"offset":0.17,"color":"#fff"},{"offset":0.18,"color":"#45a"},{"offset":0.19,"color":"#fff"},{"offset":0.2,"color":"#45a"},{"offset":0.21,"color":"#fff"},{"offset":0.22,"color":"#45a"},{"offset":0.23,"color":"#fff"},{"offset":0.24,"color":"#45a"},{"offset":0.25,"color":"#fff"},{"offset":0.26,"color":"#45a"},{"offset":0.27,"color":"#fff"},{"offset":0.28,"color":"#45a"},{"offset":0.29,"color":"#fff"},{"offset":0.3,"color":"#45a"},{"offset":0.31,"color":"#fff"},{"offset":0.32,"color":"#45a"},{"offset":0.33,"color":"#fff"},{"offset":0.34,"color":"#45a"},{"offset":0.35,"color":"#fff"},{"offset":0.36,"color":"#45a"},{"offset":0.37,"color":"#fff"},{"offset":0.38,"color":"#45a"},{"offset":0.39,"color":"#fff"},{"offset":0.4,"color":"#45a"},{"offset":0.41,"color":"#fff"},{"offset":0.42,"color":"#45a"},{"offset":0.43,"color":"#fff"},{"offset":0.44,"color":"#45a"}]}},
{"test":"datum.cat=='[19]'","value":{"gradient":"linear","x1":0,"y1":0,"x2":0.2662,"y2":1.1929,"stops":[{"offset":0,"color":"#45a"},{"offset":0.01,"color":"#fff"},{"offset":0.02,"color":"#45a"},{"offset":0.03,"color":"#fff"},{"offset":0.04,"color":"#45a"},{"offset":0.05,"color":"#fff"},{"offset":0.06,"color":"#45a"},{"offset":0.07,"color":"#fff"},{"offset":0.08,"color":"#45a"},{"offset":0.09,"color":"#fff"},{"offset":0.1,"color":"#45a"},{"offset":0.11,"color":"#fff"},{"offset":0.12,"color":"#45a"},{"offset":0.13,"color":"#fff"},{"offset":0.14,"color":"#45a"},{"offset":0.15,"color":"#fff"},{"offset":0.16,"color":"#45a"},{"offset":0.17,"color":"#fff"},{"offset":0.18,"color":"#45a"},{"offset":0.19,"color":"#fff"},{"offset":0.2,"color":"#45a"},{"offset":0.21,"color":"#fff"},{"offset":0.22,"color":"#45a"},{"offset":0.23,"color":"#fff"},{"offset":0.24,"color":"#45a"},{"offset":0.25,"color":"#fff"},{"offset":0.26,"color":"#45a"},{"offset":0.27,"color":"#fff"},{"offset":0.28,"color":"#45a"},{"offset":0.29,"color":"#fff"},{"offset":0.3,"color":"#45a"},{"offset":0.31,"color":"#fff"},{"offset":0.32,"color":"#45a"},{"offset":0.33,"color":"#fff"},{"offset":0.34,"color":"#45a"},{"offset":0.35,"color":"#fff"},{"offset":0.36,"color":"#45a"},{"offset":0.37,"color":"#fff"},{"offset":0.38,"color":"#45a"},{"offset":0.39,"color":"#fff"},{"offset":0.4,"color":"#45a"},{"offset":0.41,"color":"#fff"},{"offset":0.42,"color":"#45a"},{"offset":0.43,"color":"#fff"},{"offset":0.44,"color":"#45a"},{"offset":0.45,"color":"#fff"},{"offset":0.46,"color":"#45a"},{"offset":0.47,"color":"#fff"},{"offset":0.48,"color":"#45a"},{"offset":0.49,"color":"#fff"},{"offset":0.5,"color":"#45a"},{"offset":0.51,"color":"#fff"},{"offset":0.52,"color":"#45a"},{"offset":0.53,"color":"#fff"},{"offset":0.54,"color":"#45a"},{"offset":0.55,"color":"#fff"},{"offset":0.56,"color":"#45a"},{"offset":0.57,"color":"#fff"},{"offset":0.58,"color":"#45a"},{"offset":0.59,"color":"#fff"},{"offset":0.6,"color":"#45a"},{"offset":0.61,"color":"#fff"},{"offset":0.62,"color":"#45a"},{"offset":0.63,"color":"#fff"},{"offset":0.64,"color":"#45a"},{"offset":0.65,"color":"#fff"},{"offset":0.66,"color":"#45a"},{"offset":0.67,"color":"#fff"},{"offset":0.68,"color":"#45a"},{"offset":0.69,"color":"#fff"},{"offset":0.7,"color":"#45a"},{"offset":0.71,"color":"#fff"},{"offset":0.72,"color":"#45a"},{"offset":0.73,"color":"#fff"},{"offset":0.74,"color":"#45a"},{"offset":0.75,"color":"#fff"},{"offset":0.76,"color":"#45a"},{"offset":0.77,"color":"#fff"},{"offset":0.78,"color":"#45a"},{"offset":0.79,"color":"#fff"},{"offset":0.8,"color":"#45a"},{"offset":0.81,"color":"#fff"},{"offset":0.82,"color":"#45a"},{"offset":0.83,"color":"#fff"},{"offset":0.84,"color":"#45a"},{"offset":0.85,"color":"#fff"},{"offset":0.86,"color":"#45a"},{"offset":0.87,"color":"#fff"},{"offset":0.88,"color":"#45a"},{"offset":0.89,"color":"#fff"},{"offset":0.9,"color":"#45a"},{"offset":0.91,"color":"#fff"},{"offset":0.92,"color":"#45a"},{"offset":0.93,"color":"#fff"},{"offset":0.94,"color":"#45a"},{"offset":0.95,"color":"#fff"},{"offset":0.96,"color":"#45a"},{"offset":0.97,"color":"#fff"},{"offset":0.98,"color":"#45a"},{"offset":0.99,"color":"#fff"},{"offset":1,"color":"#45a"}]}}
],"value":{"gradient":"linear","x1":0,"y1":0,"x2":5.388,"y2":1.0996,"stops":[{"offset":0,"color":"#45a"},{"offset":0.01,"color":"#fff"},{"offset":0.02,"color":"#45a"},{"offset":0.03,"color":"#fff"},{"offset":0.04,"color":"#45a"},{"offset":0.05,"color":"#fff"},{"offset":0.06,"color":"#45a"},{"offset":0.07,"color":"#fff"},{"offset":0.08,"color":"#45a"},{"offset":0.09,"color":"#fff"},{"offset":0.1,"color":"#45a"},{"offset":0.11,"color":"#fff"},{"offset":0.12,"color":"#45a"},{"offset":0.13,"color":"#fff"},{"offset":0.14,"color":"#45a"},{"offset":0.15,"color":"#fff"},{"offset":0.16,"color":"#45a"},{"offset":0.17,"color":"#fff"},{"offset":0.18,"color":"#45a"},{"offset":0.19,"color":"#fff"},{"offset":0.2,"color":"#45a"},{"offset":0.21,"color":"#fff"},{"offset":0.22,"color":"#45a"},{"offset":0.23,"color":"#fff"},{"offset":0.24,"color":"#45a"}]}}
}},
{"data":{"values":[{"cat":"Ours","from":1,"to":3.27},{"cat":"[22]","from":0.032,"to":1},{"cat":"[23]","from":0.125,"to":1}]},
"encoding":{"x":{"field":"cat","type":"nominal"}},
"layer":[
{"mark":{"type":"rule","color":"#1a1a1a","strokeWidth":4,"y2Offset":10},"encoding":{"y":{"field":"from","type":"quantitative"},"y2":{"field":"to"}}},
{"mark":{"type":"point","shape":"M0,0L-0.735,2L0.735,2Z","size":289,"filled":true,"opacity":1,"color":"#1a1a1a","strokeWidth":0},"encoding":{"y":{"field":"to","type":"quantitative"}}}
]},
{"data":{"values":[{"cat":"Ours","y":2.25,"t":"3.2x"},{"cat":"[22]","y":0.556,"t":"31x"},{"cat":"[23]","y":0.556,"t":"8x"}]},
"mark":{"type":"text","align":"left","dx":8.5,"color":"#1a1a1a"},
"encoding":{"x":{"field":"cat","type":"nominal"},"y":{"field":"y","type":"quantitative"},"text":{"field":"t"}}}
]}
]
}
